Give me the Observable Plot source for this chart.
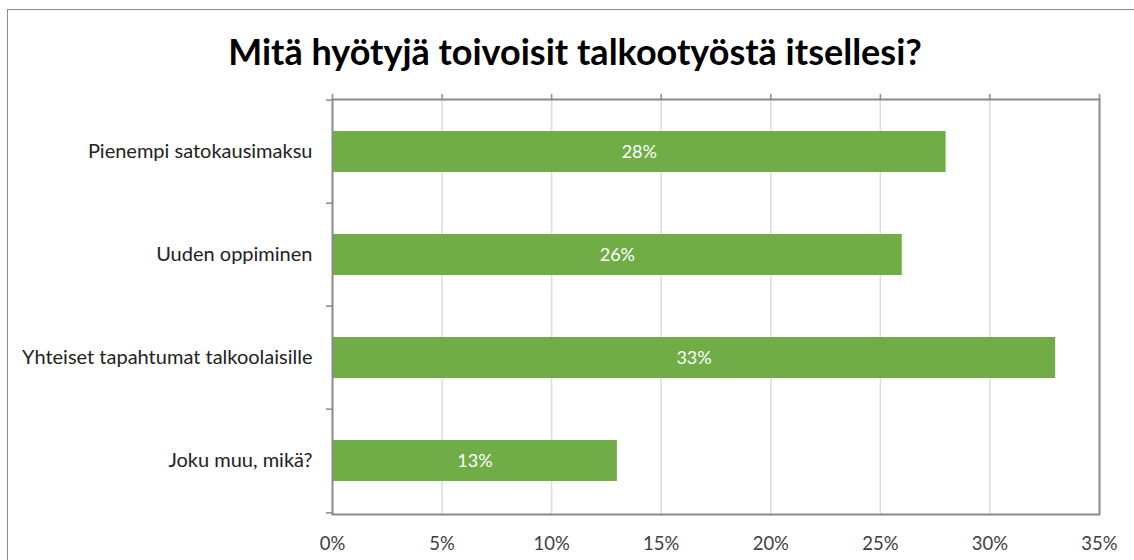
<!DOCTYPE html>
<html>
<head>
<meta charset="utf-8">
<script src="https://cdn.jsdelivr.net/npm/d3@7"></script>
<script src="https://cdn.jsdelivr.net/npm/@observablehq/plot@0.6"></script>
<style>
  html, body { margin: 0; padding: 0; background: #fff; width: 1134px; height: 560px; overflow: hidden; }
  #frame { position: absolute; left: 7px; top: 9px; width: 1200px; height: 600px;
           border-left: 1.5px solid #8a8a8a; border-top: 1.5px solid #8a8a8a; }
  #title { position: absolute; left: 0; top: 27px; width: 1134px; padding-left: 16px; box-sizing: border-box;
           text-align: center; font-family: Lato, sans-serif; font-weight: bold; font-size: 36px; color: #000; line-height: 48px; }
  #chart { position: absolute; left: 0; top: 80px; }
</style>
</head>
<body>
<div id="frame"></div>
<div id="title">Mitä hyötyjä toivoisit talkootyöstä itsellesi?</div>
<div id="chart"></div>
<script>
const categories = ["Pienempi satokausimaksu", "Uuden oppiminen", "Yhteiset tapahtumat talkoolaisille", "Joku muu, mikä?"];
const values = [28, 26, 33, 13];
const xTicks = [0, 5, 10, 15, 20, 25, 30, 35];
const gridTicks = [5, 10, 15, 20, 25, 30];

const data = categories.map((c, i) => ({category: c, value: values[i]}));

const W = 1134, H = 480, mt = 19, mb = 46, ml = 332, mr = 35;
const step = (H - mt - mb) / categories.length;
const axisColor = "#8a8a8a";

const chart = Plot.plot({
  width: W, height: H,
  marginTop: mt, marginBottom: mb, marginLeft: ml, marginRight: mr,
  style: {background: "transparent", fontFamily: "Lato, sans-serif"},
  x: {domain: [0, 35], axis: null, label: null},
  y: {domain: categories, paddingInner: 0.6, paddingOuter: 0.3, axis: null, label: null},
  marks: [
    Plot.ruleX(gridTicks, {stroke: "#dcdcdc", strokeWidth: 1.5}),
    Plot.barX(data, {x: "value", y: "category", fill: "#70AD47"}),
    Plot.text(data, {x: d => d.value / 2, y: "category", text: d => d.value + "%", fill: "white", fontSize: 18}),
    Plot.frame({stroke: axisColor, strokeWidth: 2}),
    Plot.axisX(xTicks, {anchor: "top", tickSize: 6, tickFormat: () => "", label: null, stroke: axisColor, strokeWidth: 1.5}),
    Plot.axisX(xTicks, {anchor: "bottom", tickSize: 0, tickPadding: 22, tickFormat: d => d + "%", label: null, fontSize: 18.5, fill: "#404040"}),
    Plot.axisY(categories, {anchor: "left", tickSize: 6, dy: -step / 2, tickFormat: () => "", label: null, stroke: axisColor, strokeWidth: 1.5}),
    Plot.axisY([categories[categories.length - 1]], {anchor: "left", tickSize: 6, dy: step / 2, tickFormat: () => "", label: null, stroke: axisColor, strokeWidth: 1.5}),
    Plot.axisY(categories, {anchor: "left", tickSize: 0, tickPadding: 20, fontSize: 20, fill: "#222", label: null})
  ]
});
document.getElementById("chart").appendChild(chart);
</script>
</body>
</html>
